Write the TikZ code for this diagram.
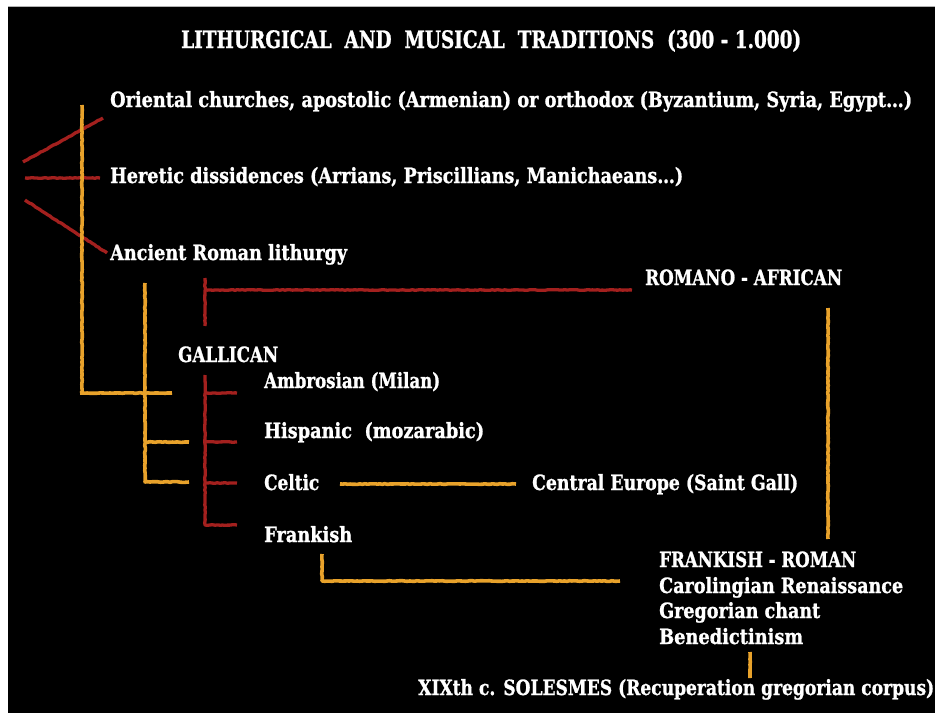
\documentclass[tikz,border=0pt]{standalone}
\usepackage{fontspec}
\setmainfont{DejaVu Serif}[BoldFeatures={FakeBold=1.2}]
\usetikzlibrary{decorations.pathmorphing}
\definecolor{chalkorange}{RGB}{232,162,43}
\definecolor{chalkred}{RGB}{163,32,30}
\newcommand{\fitw}[2]{\resizebox{#1}{\height}{#2}}
\tikzset{
  lbl/.style={text=white, font=\bfseries\fontsize{21}{23}\selectfont, inner sep=0pt, anchor=base west},
  titlelbl/.style={lbl, font=\bfseries\fontsize{24}{26}\selectfont},
  chalk/.style={line width=3.6pt, line join=round, decorate,
    decoration={random steps, segment length=2.5pt, amplitude=0.35pt}},
  oline/.style={chalk, draw=chalkorange},
  rline/.style={chalk, draw=chalkred, line width=3.3pt},
}
\begin{document}
\begin{tikzpicture}[x=1pt,y=-1pt]
\useasboundingbox (0,0) rectangle (937,713);
\fill[white] (0,0) rectangle (937,713);
\fill[black] (8,6) rectangle (935,713);
\draw[gray!60, line width=1pt] (8,6.5) -- (935,6.5);

% texts
\node[titlelbl] (title) at (181,48) {\fitw{620pt}{LITHURGICAL\ \ AND\ \ MUSICAL\ \ TRADITIONS\ \ (300 - 1.000)}};
\node[lbl] (orient) at (110,107) {\fitw{802pt}{Oriental churches, apostolic (Armenian) or orthodox (Byzantium, Syria, Egypt…)}};
\node[lbl] (heretic) at (110,183) {\fitw{573pt}{Heretic dissidences (Arrians, Priscillians, Manichaeans…)}};
\node[lbl] (ancient) at (110,260) {\fitw{237pt}{Ancient Roman lithurgy}};
\node[lbl] (romano) at (645,285) {\fitw{197pt}{ROMANO - AFRICAN}};
\node[lbl] (gallican) at (178,362) {\fitw{100pt}{GALLICAN}};
\node[lbl] (ambro) at (264,388) {\fitw{176pt}{Ambrosian (Milan)}};
\node[lbl] (hisp) at (264,438) {\fitw{220pt}{Hispanic\ \ (mozarabic)}};
\node[lbl] (celtic) at (264,490) {\fitw{55pt}{Celtic}};
\node[lbl] (central) at (532,490) {\fitw{266pt}{Central Europe (Saint Gall)}};
\node[lbl] (frankish) at (264,542) {\fitw{88pt}{Frankish}};
\node[lbl] (frrom) at (659,567) {\fitw{197pt}{FRANKISH - ROMAN}};
\node[lbl] (caro) at (659,593) {\fitw{244pt}{Carolingian Renaissance}};
\node[lbl] (greg) at (659,618) {\fitw{161pt}{Gregorian chant}};
\node[lbl] (bene) at (659,644) {\fitw{144pt}{Benedictinism}};
\node[lbl] (soles) at (418,695) {\fitw{516pt}{XIXth c. SOLESMES (Recuperation gregorian corpus)}};

% coordinates
\coordinate (d1a) at (23,162);  \coordinate (d1b) at (103,118);
\coordinate (h1a) at (25,178);  \coordinate (h1b) at (100,178);
\coordinate (d2a) at (25,200);  \coordinate (d2b) at (107,253);
\coordinate (rvT) at (205,278); \coordinate (rvB) at (205,326);
\coordinate (rhA) at (205,290); \coordinate (rhB) at (632,290);
\coordinate (gvT) at (205,375); \coordinate (gvB) at (205,525);
\coordinate (gb1) at (237,393); \coordinate (gb2) at (237,442);
\coordinate (gb3) at (237,483); \coordinate (gb4) at (237,525);

\coordinate (o1T) at (82,105);  \coordinate (o1B) at (82,393);
\coordinate (o1L) at (80,393);  \coordinate (o1R) at (172,393);
\coordinate (o2T) at (145,283); \coordinate (o2B) at (145,482);
\coordinate (o2m) at (145,442); \coordinate (o2mR) at (189,442);
\coordinate (o2bR) at (189,482);
\coordinate (ceA) at (340,484); \coordinate (ceB) at (516,484);
\coordinate (frT) at (322,554); \coordinate (frC) at (322,581);
\coordinate (frR) at (620,581);
\coordinate (rvoT) at (828,308); \coordinate (rvoB) at (828,539);
\coordinate (bvT) at (750,652); \coordinate (bvB) at (750,678);

% red lines
\draw[rline] (d1a) -- (d1b);
\draw[rline] (h1a) -- (h1b);
\draw[rline] (d2a) -- (d2b);
\draw[rline] (rvT) -- (rvB);
\draw[rline] (rhA) -- (rhB);
\draw[rline] (gvT) -- (gvB) -- (gb4);
\draw[rline] (gb1 -| gvT) -- (gb1);
\draw[rline] (gb2 -| gvT) -- (gb2);
\draw[rline] (gb3 -| gvT) -- (gb3);

% orange lines
\draw[oline] (o1T) -- (o1B);
\draw[oline] (o1L) -- (o1R);
\draw[oline] (o2T) -- (o2B) -- (o2bR);
\draw[oline] (o2m) -- (o2mR);
\draw[oline] (ceA) -- (ceB);
\draw[oline] (frT) -- (frC) -- (frR);
\draw[oline] (rvoT) -- (rvoB);
\draw[oline] (bvT) -- (bvB);
\end{tikzpicture}
\end{document}
